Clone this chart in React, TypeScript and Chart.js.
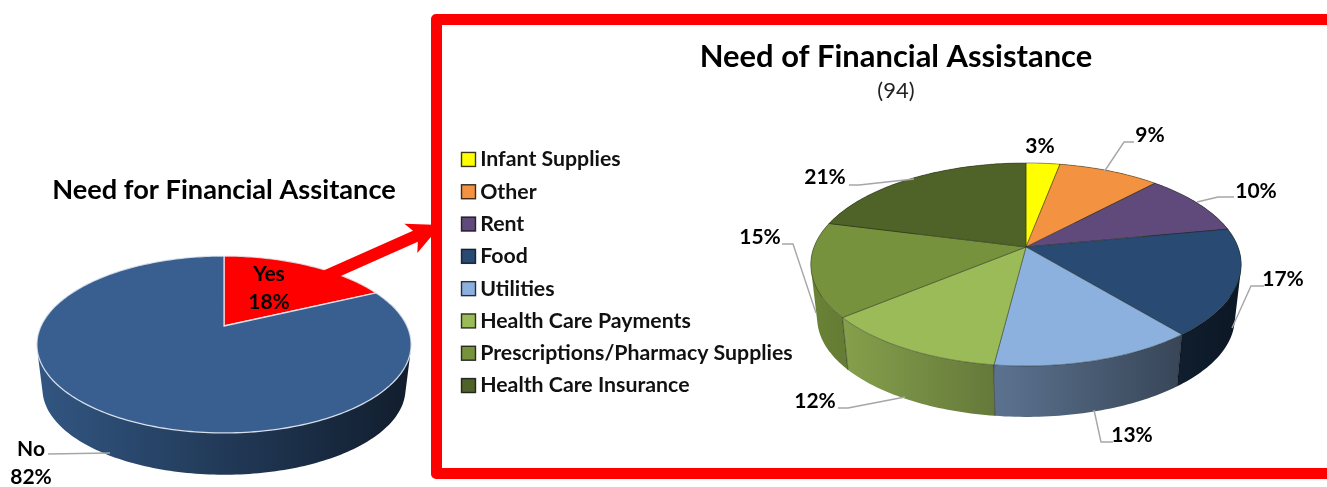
import React, { useEffect, useRef } from "react";
import { Chart, registerables } from "chart.js";

Chart.register(...registerables);

const FONT = "Lato, 'Noto Sans', sans-serif";

// ---- data ----
const overviewTitle = "Need for Financial Assitance";
const overviewCategories = ["Yes", "No"];
const overviewValues = [18, 82];
const overviewColors = ["#FF0000", "#385F90"];

const detailTitle = "Need of Financial Assistance";
const detailSubtitle = "(94)";
const detailCategories = [
  "Infant Supplies",
  "Other",
  "Rent",
  "Food",
  "Utilities",
  "Health Care Payments",
  "Prescriptions/Pharmacy Supplies",
  "Health Care Insurance",
];
const detailValues = [3, 9, 10, 17, 13, 12, 15, 21];
const detailColors = ["#FFFF00", "#F39240", "#604A7B", "#284A73", "#8DB1DE", "#9BBB59", "#76923C", "#4F6228"];

// ---- layout (page pixels) ----
const OVERVIEW_BOX = { left: 0, width: 448 };
const DETAIL_BOX = { left: 449, width: 894 };
const overviewPie = { cx: 224, cy: 326, rx: 183, ry: 84.6, p: 0.209, depth: 45, inset: 0.97 };
const detailPie = { cx: 1026, cy: 247, rx: 212, ry: 98.5, p: 0.172, depth: 54.5, inset: 0.97 };
const SWATCH = 14;
const SWATCH_SHIFT = 1.5;

type Label = { lines: string[]; x: number; y: number; leader?: number[][] };

const overviewLabels = (): Label[] => [
  { lines: [overviewCategories[0], `${overviewValues[0]}%`], x: 269, y: 274 },
  {
    lines: [overviewCategories[1], `${overviewValues[1]}%`],
    x: 31,
    y: 449,
    leader: [[48, 454], [110, 453]],
  },
];

const detailLabelSpots: { x: number; y: number; leader: number[][] }[] = [
  { x: 1040, y: 146, leader: [] },
  { x: 1150, y: 135, leader: [[1134, 142], [1124, 142], [1104, 172]] },
  { x: 1256, y: 191, leader: [[1234, 197], [1218, 197], [1197, 202]] },
  { x: 1283, y: 279, leader: [[1264, 286], [1251, 286], [1232, 328]] },
  { x: 1132, y: 435, leader: [[1113, 442], [1101, 442], [1094, 410]] },
  { x: 815, y: 401, leader: [[838, 408], [848, 408], [905, 397]] },
  { x: 760, y: 237, leader: [[782, 244], [793, 244], [816, 313]] },
  { x: 825, y: 177, leader: [[849, 185], [859, 185], [914, 179]] },
];
const detailLabels = (): Label[] =>
  detailValues.map((v, i) => ({ lines: [`${v}%`], ...detailLabelSpots[i] }));

function shade(hex: string, k: number) {
  const n = parseInt(hex.slice(1), 16);
  const c = [(n >> 16) & 255, (n >> 8) & 255, n & 255].map((v) => Math.round(v * k));
  return `rgb(${c[0]},${c[1]},${c[2]})`;
}

type PieGeom = typeof overviewPie;
type Pt = { x: number; y: number };

function project(g: PieGeom, theta: number): Pt {
  const u = Math.sin(theta);
  const v = Math.cos(theta);
  const w = 1 + g.p * v;
  return { x: g.cx + (g.rx * u) / w, y: g.cy - (g.ry * v) / w };
}

function lower(g: PieGeom, pt: Pt): Pt {
  return {
    x: g.cx + (pt.x - g.cx) * g.inset,
    y: g.cy + (pt.y - g.cy) * g.inset + g.depth,
  };
}

function rim(g: PieGeom, a: number, b: number) {
  const n = Math.max(4, Math.ceil((b - a) / 0.02));
  const pts: Pt[] = [];
  for (let i = 0; i <= n; i++) pts.push(project(g, a + ((b - a) * i) / n));
  return pts;
}

function signedArea(q: Pt[]) {
  let s = 0;
  q.forEach((p, i) => {
    const n = q[(i + 1) % q.length];
    s += p.x * n.y - n.x * p.y;
  });
  return s;
}

function pie3d(
  id: string,
  g: PieGeom,
  box: { left: number },
  labels: () => Label[],
  edge: string,
  edgeWidth: number,
  wallEdge: string,
  labelFont: string,
  extra?: (ctx: CanvasRenderingContext2D) => void,
) {
  return {
    id,
    beforeDatasetDraw(chart: any, args: any) {
      const ctx: CanvasRenderingContext2D = chart.ctx;
      const meta = chart.getDatasetMeta(args.index);
      const colors: string[] = chart.data.datasets[args.index].backgroundColor;
      const slices = meta.data.map((arc: any, i: number) => ({
        a: arc.startAngle + Math.PI / 2,
        b: arc.endAngle + Math.PI / 2,
        color: colors[i],
      }));
      ctx.save();
      ctx.translate(-box.left, 0);
      const x0 = g.cx - g.rx * 1.02;
      const x1 = g.cx + g.rx * 1.02;
      const ordered = [...slices].sort(
        (s, t) => Math.cos((t.a + t.b) / 2) - Math.cos((s.a + s.b) / 2),
      );
      for (const s of ordered) {
        const top = rim(g, s.a, s.b);
        const grad = ctx.createLinearGradient(x0, 0, x1, 0);
        grad.addColorStop(0, shade(s.color, 0.9));
        grad.addColorStop(1, shade(s.color, 0.31));
        ctx.fillStyle = grad;
        // all quads go into one path with one winding, so no seams appear
        ctx.beginPath();
        for (let i = 0; i < top.length - 1; i++) {
          const q = [top[i], top[i + 1], lower(g, top[i + 1]), lower(g, top[i])];
          if (signedArea(q) < 0) q.reverse();
          q.forEach((p, k) => (k ? ctx.lineTo(p.x, p.y) : ctx.moveTo(p.x, p.y)));
          ctx.closePath();
        }
        ctx.fill();
        ctx.strokeStyle = wallEdge;
        ctx.lineWidth = 0.8;
        for (const p of [top[0], top[top.length - 1]]) {
          const t = lower(g, p);
          ctx.beginPath();
          ctx.moveTo(p.x, p.y);
          ctx.lineTo(t.x, t.y);
          ctx.stroke();
        }
      }
      for (const s of slices) {
        const top = rim(g, s.a, s.b);
        ctx.beginPath();
        ctx.moveTo(g.cx, g.cy);
        top.forEach((p) => ctx.lineTo(p.x, p.y));
        ctx.closePath();
        ctx.fillStyle = s.color;
        ctx.fill();
        ctx.strokeStyle = edge;
        ctx.lineWidth = edgeWidth;
        ctx.stroke();
      }
      ctx.restore();
      return false;
    },
    afterDraw(chart: any) {
      const ctx: CanvasRenderingContext2D = chart.ctx;
      const hits = chart.legend && chart.legend.options.display ? chart.legend.legendHitBoxes : null;
      if (hits) {
        const colors: string[] = chart.data.datasets[0].backgroundColor;
        hits.forEach((h: any, i: number) => {
          const y = h.top + h.height / 2 - SWATCH / 2;
          ctx.fillStyle = colors[i];
          ctx.fillRect(h.left + SWATCH_SHIFT, y, SWATCH, SWATCH);
          ctx.strokeStyle = "rgba(0,0,0,0.78)";
          ctx.lineWidth = 1.4;
          ctx.strokeRect(h.left + SWATCH_SHIFT, y, SWATCH, SWATCH);
        });
      }
      ctx.save();
      ctx.translate(-box.left, 0);
      if (extra) extra(ctx);
      ctx.font = labelFont;
      ctx.fillStyle = "#000";
      ctx.textAlign = "center";
      ctx.textBaseline = "middle";
      for (const l of labels()) {
        if (l.leader && l.leader.length) {
          ctx.beginPath();
          l.leader.forEach(([x, y], i) => (i ? ctx.lineTo(x, y) : ctx.moveTo(x, y)));
          ctx.strokeStyle = "#A6A6A6";
          ctx.lineWidth = 1.4;
          ctx.stroke();
        }
        l.lines.forEach((t, i) => ctx.fillText(t, l.x, l.y + i * 28));
      }
      ctx.restore();
    },
  };
}

function drawArrow(ctx: CanvasRenderingContext2D) {
  const from = { x: 326, y: 276 };
  const to = { x: 441, y: 225 };
  const ang = Math.atan2(to.y - from.y, to.x - from.x);
  const len = Math.hypot(to.x - from.x, to.y - from.y);
  ctx.save();
  ctx.translate(from.x, from.y);
  ctx.rotate(ang);
  ctx.beginPath();
  ctx.moveTo(0, -6);
  ctx.lineTo(len - 28, -6);
  ctx.lineTo(len - 33, -16);
  ctx.lineTo(len, 0);
  ctx.lineTo(len - 33, 16);
  ctx.lineTo(len - 28, 6);
  ctx.lineTo(0, 6);
  ctx.closePath();
  ctx.fillStyle = "#FF0000";
  ctx.fill();
  ctx.restore();
}

export default function App() {
  const leftRef = useRef<HTMLCanvasElement>(null);
  const rightRef = useRef<HTMLCanvasElement>(null);

  useEffect(() => {
    const left = new Chart(leftRef.current!, {
      type: "pie",
      data: {
        labels: overviewCategories,
        datasets: [{ data: overviewValues, backgroundColor: overviewColors, borderWidth: 0 }],
      },
      options: {
        animation: false,
        responsive: false,
        plugins: {
          legend: { display: false },
          tooltip: { enabled: false },
          title: {
            display: true,
            text: overviewTitle,
            color: "#000",
            font: { family: FONT, size: 27.2, weight: "bold", lineHeight: 1 },
            padding: { top: 176.5, bottom: 4 },
          },
        },
      },
      plugins: [
        pie3d("pieLeft", overviewPie, OVERVIEW_BOX, overviewLabels, "rgba(235,240,248,0.85)", 1.3, "rgba(20,40,70,0.2)", `bold 21px ${FONT}`, drawArrow),
      ],
    } as any);

    const defaultLabels = (Chart as any).overrides.pie.plugins.legend.labels.generateLabels;

    const right = new Chart(rightRef.current!, {
      type: "pie",
      data: {
        labels: detailCategories,
        datasets: [{ data: detailValues, backgroundColor: detailColors, borderWidth: 0 }],
      },
      options: {
        animation: false,
        responsive: false,
        layout: { padding: { bottom: -58 } },
        plugins: {
          tooltip: { enabled: false },
          title: {
            display: true,
            text: detailTitle,
            color: "#000",
            font: { family: FONT, size: 30.9, weight: "bold", lineHeight: 1 },
            padding: { top: 41.5, bottom: 8 },
          },
          subtitle: {
            display: true,
            text: detailSubtitle,
            color: "#222",
            font: { family: FONT, size: 22, weight: "normal", lineHeight: 1 },
            padding: { top: 0, bottom: 0 },
          },
          legend: {
            position: "left",
            align: "center",
            labels: {
              boxWidth: 9.5,
              boxHeight: 14,
              padding: 11,
              color: "#111",
              font: { family: FONT, size: 21.3, weight: "bold", lineHeight: 1 },
              generateLabels: (chart: any) =>
                defaultLabels(chart).map((item: any) => ({
                  ...item,
                  fillStyle: "rgba(0,0,0,0)",
                  strokeStyle: "rgba(0,0,0,0)",
                  lineWidth: 0,
                })),
            },
          },
        },
      },
      plugins: [
        pie3d("pieRight", detailPie, DETAIL_BOX, detailLabels, "rgba(30,40,20,0.55)", 0.8, "rgba(0,0,0,0.35)", `bold 21px ${FONT}`),
      ],
    } as any);

    return () => {
      left.destroy();
      right.destroy();
    };
  }, []);

  return (
    <div style={{ position: "fixed", left: 0, top: 0, width: 1327, height: 487, overflow: "hidden", background: "#fff" }}>
      <canvas ref={leftRef} width={OVERVIEW_BOX.width} height={487} style={{ position: "absolute", left: OVERVIEW_BOX.left, top: 0, width: OVERVIEW_BOX.width, height: 487 }} />
      <div style={{ position: "absolute", left: 431, top: 14, width: 1000, height: 465, border: "11px solid #FF0000", borderRadius: 5, boxSizing: "border-box" }} />
      <canvas ref={rightRef} width={DETAIL_BOX.width} height={487} style={{ position: "absolute", left: DETAIL_BOX.left, top: 0, width: DETAIL_BOX.width, height: 487 }} />
    </div>
  );
}
